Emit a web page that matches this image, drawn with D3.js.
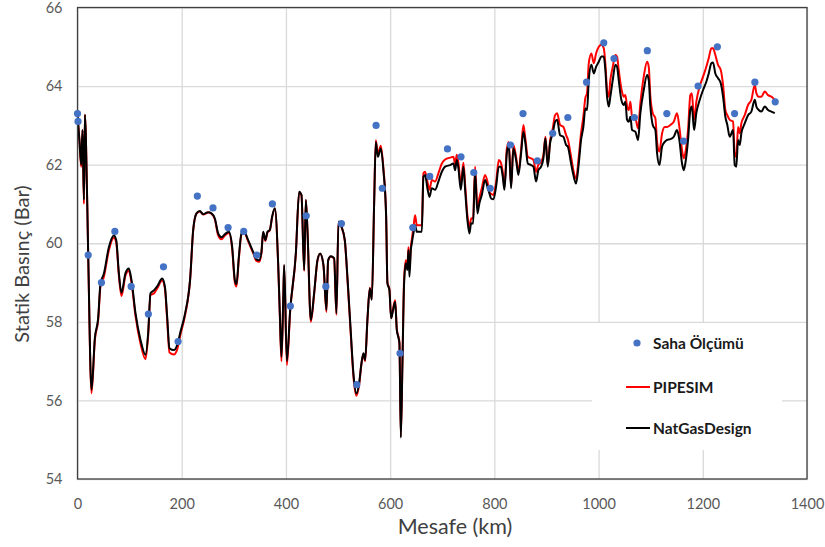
<!DOCTYPE html>
<html>
<head>
<meta charset="utf-8">
<script src="https://cdn.jsdelivr.net/npm/d3@7"></script>
<style>
  html, body { margin: 0; padding: 0; background: #fff; }
  svg { display: block; font-family: Lato, "Open Sans", "DejaVu Sans", sans-serif; }
</style>
</head>
<body>
<svg id="chart" width="825" height="547"></svg>
<script>
// Distance along the pipeline (km) shared by both simulated profiles
const mesafe = [
  0, 3.8, 7.1, 9.6, 12.3, 14.2, 16.1, 20.5, 26.9, 33.4,
  39.7, 44.1, 50.7, 60.2, 69.8, 74.3, 79.4, 84.4, 92.1, 98.6,
  103.6, 111.3, 120.9, 130.5, 135.6, 140.1, 146.6, 152.9, 162.5, 167.7,
  172.1, 176.5, 185, 191.3, 197.6, 206.6, 216.2, 222, 228.3, 234.8,
  241.2, 250.8, 257.1, 263.6, 270, 276.3, 282.8, 290.5, 296.8, 302,
  305.1, 309.7, 314.7, 319.8, 327.5, 337.1, 343.4, 348.6, 353, 356.3,
  360.7, 364.5, 369.1, 373.6, 378.7, 385.1, 388.3, 391.4, 394.7, 396.6,
  401.8, 408.1, 419, 425.4, 429.8, 435, 438.2, 441.3, 447.8, 454.1,
  460.5, 465.7, 472, 477.7, 481, 486.2, 492.5, 496.9, 500.8, 506.5,
  513, 518, 524.6, 529.5, 535.3, 540.5, 544.9, 548.7, 552, 556.4,
  561, 564.8, 569.3, 572.5, 576.4, 582.1, 587.1, 592.3, 594.8, 598.6,
  601.9, 605.1, 609.6, 612.8, 615.9, 617.8, 620.5, 623.6, 626.8, 630.1,
  633.2, 635.1, 637, 639.7, 641.6, 644.7, 647.9, 651.2, 660.8, 663.9,
  667.1, 671.5, 675.4, 680, 686.3, 692.6, 699.2, 705.5, 715.1, 721.4,
  724.7, 727.9, 731, 735.6, 740.6, 743.9, 748.3, 752.1, 755.4, 759.2,
  763, 767.5, 771.3, 775.9, 782.2, 786.6, 790.5, 793.8, 798.2, 803.3,
  808.5, 812.4, 816.2, 819.3, 823.9, 827.7, 832.1, 836.5, 841.7, 846.1,
  851.3, 855.7, 859.6, 864.2, 870.5, 874.9, 880.1, 884.5, 889.7, 894.1,
  898, 902.5, 906.9, 912.1, 916.5, 920.4, 926.2, 932.5, 937.7, 940.9,
  947.3, 951.6, 956.8, 962, 966.4, 970.8, 974.6, 977.9, 981.2, 986.2,
  990.8, 995.2, 1000.4, 1005.4, 1010, 1013, 1016.3, 1019.6, 1022.6, 1027.2,
  1032.2, 1035.5, 1038.7, 1043.7, 1048.3, 1051.4, 1054.7, 1057.9, 1061, 1064.3,
  1070.6, 1075.8, 1080.2, 1086.7, 1093.1, 1096.3, 1099.4, 1104, 1109, 1112.3,
  1116.7, 1121.9, 1127, 1131.4, 1137.8, 1144.3, 1150.6, 1155, 1160.2, 1163.5,
  1166.5, 1171.7, 1176.1, 1179, 1183.3, 1187.6, 1194.2, 1200.5, 1206.8, 1211.4,
  1216.4, 1219.7, 1224.1, 1229.3, 1234.5, 1238.9, 1243.3, 1247.1, 1251.7, 1258.1,
  1261.3, 1264.4, 1267.7, 1270.9, 1274, 1280.5, 1286.9, 1293.2, 1299.8, 1302.8,
  1307.4, 1312.4, 1318.9, 1325.2, 1331.6, 1338.1
];

// NatGasDesign static pressure (bar)
const natGasDesign = [
  63.27, 62.6, 62.0, 62.88, 61.1, 63.27, 62.7, 59.74, 56.27, 57.6,
  58.1, 58.98, 59.23, 59.9, 60.2, 60.08, 59.24, 58.74, 59.24, 59.36,
  59.06, 58.22, 57.54, 57.16, 57.71, 58.73, 58.8, 58.9, 59.1, 58.9,
  58.13, 57.33, 57.28, 57.41, 57.75, 58.22, 59.1, 60.34, 60.76, 60.82,
  60.74, 60.79, 60.76, 60.63, 60.25, 60.15, 60.23, 60.29, 59.91, 59.06,
  58.96, 59.66, 60.25, 60.29, 60.08, 59.78, 59.59, 59.57, 59.78, 60.29,
  60.08, 60.29, 60.34, 60.68, 60.89, 59.49, 58.22, 57.11, 58.5, 59.45,
  57.0, 58.3, 59.74, 61.31, 61.23, 59.32, 61.1, 60.34, 58.05, 58.73,
  59.57, 59.74, 59.45, 58.3, 59.57, 59.67, 59.62, 58.22, 60.55, 60.42,
  60.08, 59.15, 57.71, 56.69, 56.18, 56.44, 56.94, 57.2, 57.03, 58.05,
  58.85, 58.56, 61.02, 62.58, 62.2, 62.41, 61.86, 60.68, 58.98, 58.81,
  58.09, 58.26, 58.51, 57.79, 57.6, 57.45, 55.05, 56.94, 58.98, 59.49,
  59.32, 59.83, 59.15, 59.83, 60.0, 60.25, 60.46, 60.29, 60.29, 61.69,
  61.74, 61.4, 61.18, 61.4, 61.36, 61.57, 61.82, 61.95, 61.99, 62.03,
  61.86, 62.12, 61.91, 61.36, 61.95, 61.36, 60.59, 60.25, 60.51, 60.5,
  61.82, 60.76, 61.02, 61.23, 61.61, 61.44, 61.27, 61.14, 61.12, 61.44,
  61.95, 61.95, 61.69, 61.36, 62.29, 62.5, 61.4, 62.41, 62.12, 61.74,
  62.29, 62.84, 62.54, 62.03, 61.99, 61.95, 61.57, 61.86, 61.95, 62.16,
  62.67, 61.95, 62.54, 62.8, 63.09, 63.14, 62.75, 62.71, 62.5, 62.46,
  62.03, 61.74, 61.52, 62.03, 62.63, 62.96, 63.43, 63.39, 64.15, 64.54,
  64.32, 64.49, 64.62, 64.75, 64.75, 64.41, 63.73, 63.48, 63.73, 64.15,
  64.54, 64.49, 64.15, 63.65, 63.52, 63.6, 63.14, 63.09, 63.22, 62.88,
  62.84, 62.63, 63.31, 63.9, 64.28, 64.15, 63.48, 63.01, 62.88, 62.29,
  61.99, 62.46, 62.58, 62.63, 62.65, 62.71, 62.88, 62.63, 62.03, 61.86,
  62.03, 62.63, 63.39, 63.48, 62.88, 63.31, 63.65, 63.9, 64.11, 64.32,
  64.58, 64.6, 64.32, 64.2, 64.07, 63.73, 63.22, 63.01, 62.71, 62.88,
  61.99, 61.95, 62.63, 62.5, 62.8, 63.05, 63.26, 63.35, 63.65, 63.48,
  63.39, 63.35, 63.48, 63.39, 63.35, 63.31
];

// PIPESIM static pressure (bar)
const pipesim = [
  63.27, 62.6, 61.95, 62.88, 61.0, 63.27, 62.7, 59.7, 56.18, 57.55,
  58.05, 58.9, 59.15, 59.82, 60.14, 60.02, 59.18, 58.66, 59.18, 59.3,
  59.0, 58.15, 57.45, 57.05, 57.65, 58.68, 58.72, 58.85, 59.05, 58.85,
  58.05, 57.22, 57.17, 57.3, 57.68, 58.18, 59.08, 60.32, 60.75, 60.81,
  60.73, 60.78, 60.75, 60.61, 60.2, 60.1, 60.2, 60.26, 59.86, 59.0,
  58.9, 59.62, 60.22, 60.27, 60.05, 59.75, 59.55, 59.53, 59.75, 60.27,
  60.06, 60.27, 60.33, 60.67, 60.88, 59.45, 58.15, 57.0, 58.45, 59.43,
  56.9, 58.25, 59.72, 61.3, 61.22, 59.3, 61.1, 60.33, 58.0, 58.7,
  59.55, 59.73, 59.43, 58.25, 59.55, 59.66, 59.6, 58.18, 60.55, 60.42,
  60.06, 59.1, 57.65, 56.62, 56.12, 56.4, 56.92, 57.18, 57.0, 58.05,
  58.87, 58.58, 61.05, 62.62, 62.28, 62.48, 61.9, 60.7, 59.0, 58.83,
  58.1, 58.3, 58.55, 57.82, 57.62, 57.48, 55.1, 57.0, 59.1, 59.57,
  59.45, 59.9, 59.3, 59.9, 60.1, 60.4, 60.71, 60.46, 60.46, 61.78,
  61.82, 61.57, 61.36, 61.61, 61.57, 61.78, 62.03, 62.13, 62.18, 62.2,
  62.02, 62.25, 62.05, 61.5, 62.05, 61.5, 60.71, 60.42, 60.62, 60.65,
  61.95, 60.9, 61.15, 61.4, 61.74, 61.58, 61.31, 61.26, 61.23, 61.55,
  62.12, 62.05, 61.8, 61.42, 62.4, 62.58, 61.45, 62.5, 62.2, 61.82,
  62.38, 63.01, 62.65, 62.2, 62.16, 62.12, 61.82, 62.0, 62.07, 62.24,
  62.71, 62.0, 62.6, 62.92, 63.26, 63.31, 63.01, 62.96, 62.75, 62.65,
  62.2, 61.86, 61.65, 62.2, 62.8, 63.22, 63.7, 63.82, 64.58, 64.83,
  64.58, 64.83, 65.0, 65.05, 64.96, 64.58, 63.9, 63.73, 64.15, 64.49,
  64.79, 64.75, 64.41, 63.94, 63.73, 63.77, 63.48, 63.39, 63.6, 63.22,
  63.18, 62.92, 63.56, 64.24, 64.62, 64.49, 63.73, 63.31, 63.18, 62.58,
  62.33, 62.8, 62.96, 62.96, 63.01, 63.09, 63.31, 62.96, 62.37, 62.16,
  62.3, 62.88, 63.77, 63.82, 63.14, 63.6, 64.0, 64.24, 64.49, 64.71,
  64.96, 64.96, 64.79, 64.54, 64.41, 64.03, 63.39, 63.26, 63.14, 63.1,
  62.29, 62.2, 62.96, 62.8, 63.05, 63.26, 63.52, 63.65, 64.03, 63.82,
  63.73, 63.73, 63.86, 63.77, 63.73, 63.65
];

// Field measurements: distance (km) and pressure (bar)
const olcumMesafe = [
  0, 1, 20.5, 46, 71.7, 103, 136, 165, 193, 230,
  260, 289, 319, 344, 374, 408.5, 439, 476.6, 506.5, 536,
  573, 585, 619, 643.5, 676, 710, 736, 760.5, 792, 831,
  855, 882.5, 912, 941, 977, 1010, 1029.6, 1068.7, 1093.6, 1131,
  1163, 1191, 1228, 1261, 1300, 1339
];
const olcumBasinc = [
  63.3, 63.1, 59.7, 59.0, 60.3, 58.9, 58.2, 59.4, 57.5, 61.2,
  60.9, 60.4, 60.3, 59.7, 61.0, 58.4, 60.7, 58.9, 60.5, 56.4,
  63.0, 61.4, 57.2, 60.4, 61.7, 62.4, 62.2, 61.8, 61.4, 62.5,
  63.3, 62.1, 62.8, 63.2, 64.1, 65.1, 64.7, 63.2, 64.9, 63.3,
  62.6, 64.0, 65.0, 63.3, 64.1, 63.6
];

const xTicks = [0, 200, 400, 600, 800, 1000, 1200, 1400];
const yTicks = [54, 56, 58, 60, 62, 64, 66];

const legendItems = [
  { label: "Saha Ölçümü", kind: "dot", color: "#4472C4" },
  { label: "PIPESIM", kind: "line", color: "#FF0000" },
  { label: "NatGasDesign", kind: "line", color: "#000000" }
];

const W = 825, H = 547;
const margin = { top: 7.5, right: 18, bottom: 68, left: 77.5 };
const iw = W - margin.left - margin.right;
const ih = H - margin.top - margin.bottom;

const svg = d3.select("#chart");
const g = svg.append("g").attr("transform", `translate(${margin.left},${margin.top})`);

const x = d3.scaleLinear().domain([0, 1400]).range([0, iw]);
const y = d3.scaleLinear().domain([54, 66]).range([ih, 0]);

// Gridlines
g.append("g").attr("class", "grid-y")
  .call(d3.axisLeft(y).tickValues(yTicks).tickSize(-iw).tickFormat(""))
  .call(s => s.select(".domain").remove())
  .call(s => s.selectAll("line").attr("stroke", "#d9d9d9").attr("stroke-width", 1.3));
g.append("g").attr("class", "grid-x")
  .attr("transform", `translate(0,${ih})`)
  .call(d3.axisBottom(x).tickValues(xTicks).tickSize(-ih).tickFormat(""))
  .call(s => s.select(".domain").remove())
  .call(s => s.selectAll("line").attr("stroke", "#d9d9d9").attr("stroke-width", 1.3));

// Tick labels
const yAxis = g.append("g")
  .call(d3.axisLeft(y).tickValues(yTicks).tickSize(0).tickPadding(15).tickFormat(d3.format("d")));
yAxis.select(".domain").remove();
yAxis.selectAll("text").attr("font-size", 14.5).attr("fill", "#595959")
  .attr("font-family", "Lato, sans-serif");

const xAxis = g.append("g").attr("transform", `translate(0,${ih})`)
  .call(d3.axisBottom(x).tickValues(xTicks).tickSize(0).tickPadding(20).tickFormat(d3.format("d")));
xAxis.select(".domain").remove();
xAxis.selectAll("text").attr("font-size", 14.5).attr("fill", "#595959")
  .attr("font-family", "Lato, sans-serif");

// Clip the profile lines to the plot area
g.append("clipPath").attr("id", "plot-clip")
  .append("rect").attr("width", iw).attr("height", ih);

const seriesLine = vals => d3.line()
  .x((d, i) => x(mesafe[i]))
  .y(d => y(d))
  .curve(d3.curveMonotoneX)(vals);

const plot = g.append("g").attr("clip-path", "url(#plot-clip)");

plot.append("path")
  .attr("d", seriesLine(pipesim))
  .attr("fill", "none").attr("stroke", "#FF0000").attr("stroke-width", 2)
  .attr("stroke-linejoin", "round");

plot.append("path")
  .attr("d", seriesLine(natGasDesign))
  .attr("fill", "none").attr("stroke", "#000000").attr("stroke-width", 2)
  .attr("stroke-linejoin", "round");

// Legend (white box over the grid)
const legend = g.append("g").attr("transform", `translate(${592 - margin.left},${323 - margin.top})`);
legend.append("rect").attr("width", 190).attr("height", 127).attr("fill", "#fff");
const rowY = [20, 64, 105];
legendItems.forEach((it, i) => {
  const row = legend.append("g").attr("transform", `translate(0,${rowY[i]})`);
  if (it.kind === "dot") {
    row.append("circle").attr("cx", 45).attr("cy", 0).attr("r", 3.6).attr("fill", it.color);
  } else {
    row.append("line").attr("x1", 34).attr("x2", 58).attr("y1", 0).attr("y2", 0)
      .attr("stroke", it.color).attr("stroke-width", 2);
  }
  row.append("text").attr("x", 61).attr("y", 5.5).attr("font-size", 15.5)
    .attr("font-weight", "bold").attr("fill", "#1a1a1a")
    .attr("font-family", "Lato, sans-serif")
    .text(it.label);
});

// Plot frame
g.append("rect").attr("width", iw).attr("height", ih)
  .attr("fill", "none").attr("stroke", "#404040").attr("stroke-width", 1.3);

// Field measurement points (drawn on top, not clipped)
g.selectAll("circle.olcum")
  .data(olcumMesafe)
  .enter().append("circle").attr("class", "olcum")
  .attr("cx", d => x(d))
  .attr("cy", (d, i) => y(olcumBasinc[i]))
  .attr("r", 3.6)
  .attr("fill", "#4472C4");

// Axis titles
svg.append("text")
  .attr("x", 455).attr("y", 534)
  .attr("text-anchor", "middle").attr("font-size", 21.5).attr("fill", "#404040")
  .attr("font-family", "Lato, sans-serif")
  .text("Mesafe (km)");

svg.append("text")
  .attr("transform", `translate(29,264) rotate(-90)`)
  .attr("text-anchor", "middle").attr("font-size", 20).attr("fill", "#404040")
  .attr("font-family", "Lato, sans-serif")
  .text("Statik Basınç (Bar)");
</script>
</body>
</html>
